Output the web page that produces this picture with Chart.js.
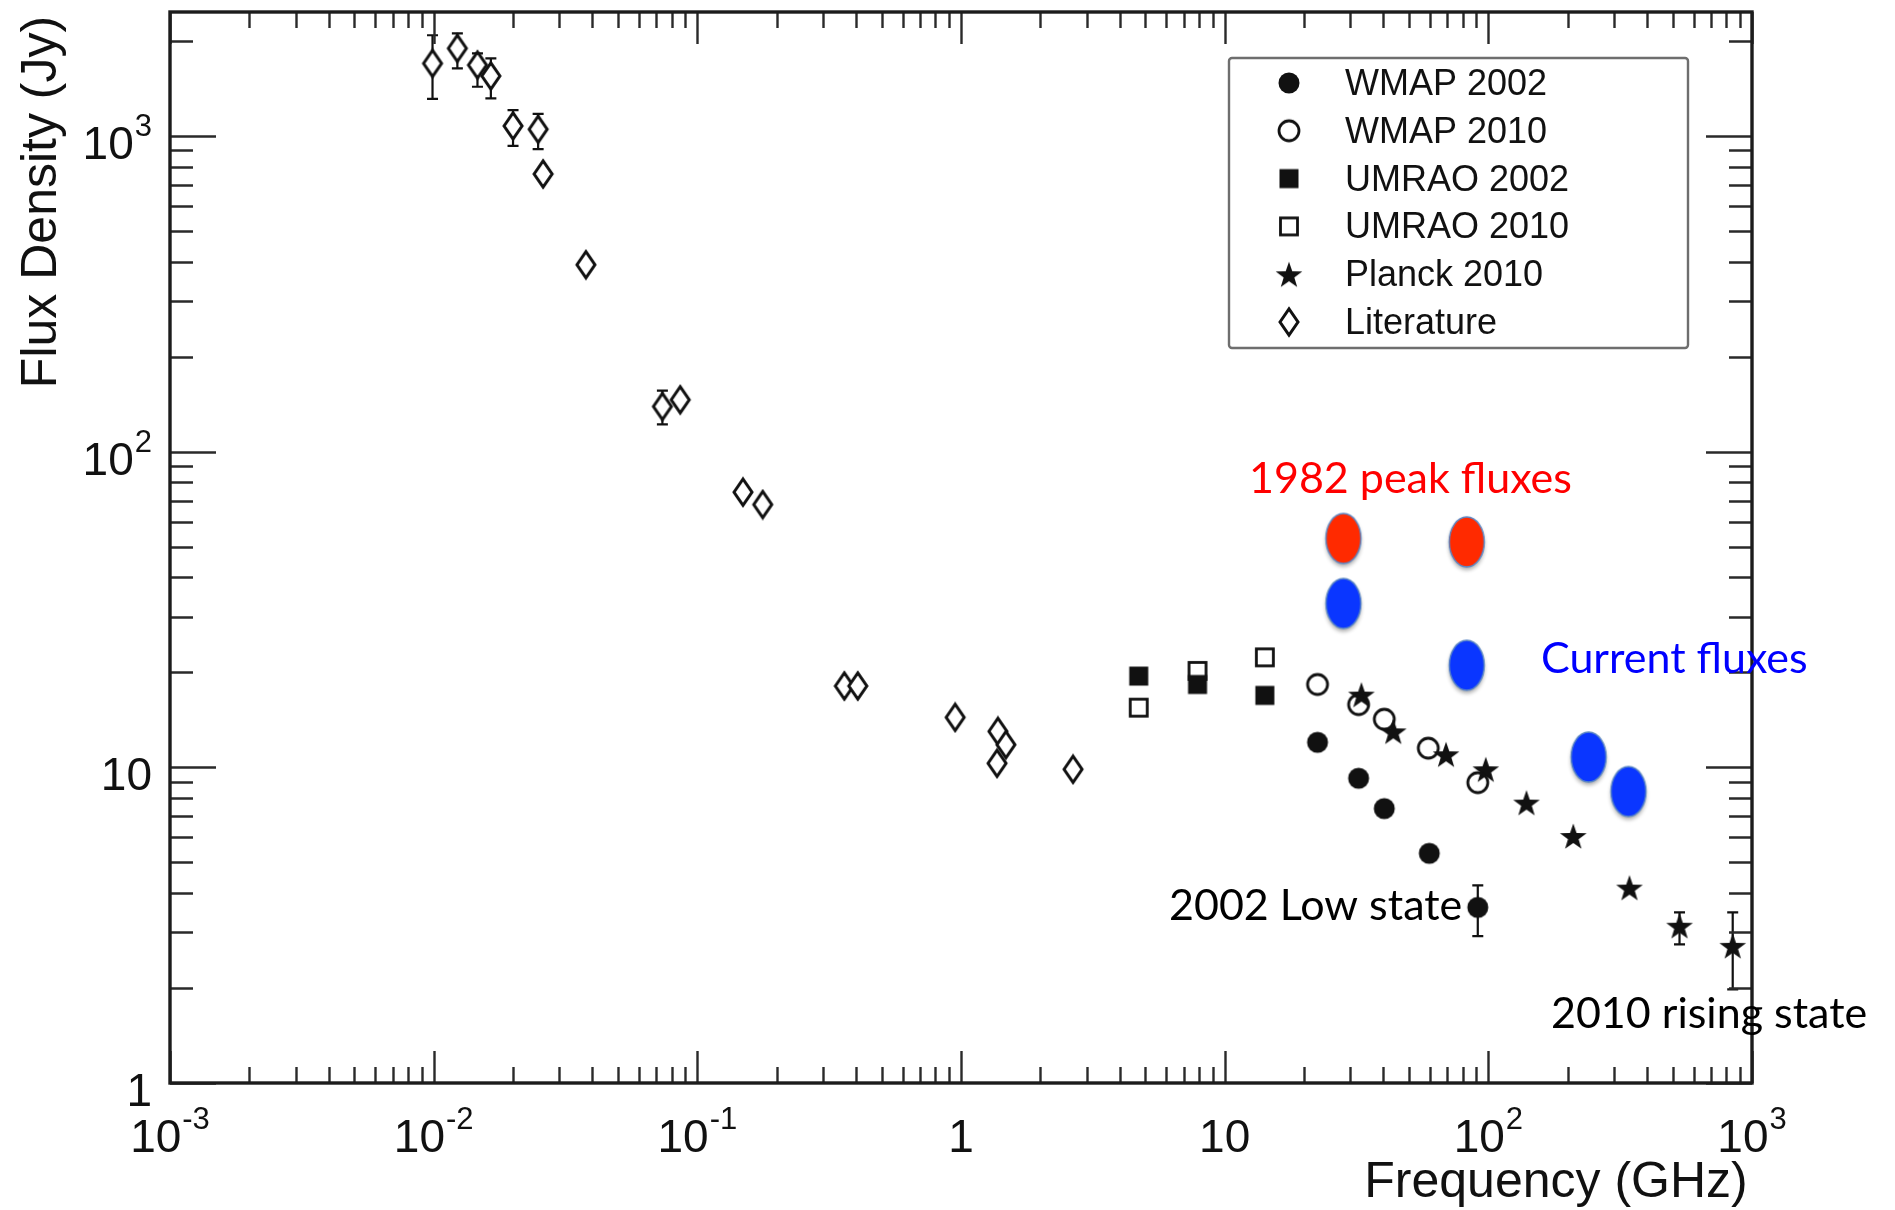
<!DOCTYPE html>
<html lang="en">
<head>
  <meta charset="utf-8">
  <title>Flux Density vs Frequency</title>
  <style>
    html, body { margin: 0; padding: 0; background: #fff; }
    #sed { display: block; }
  </style>
</head>
<body>
  <canvas id="sed" width="1895" height="1210"></canvas>

  <script src="https://cdn.jsdelivr.net/npm/chart.js"></script>
  <script>
    // frequency in GHz, flux density in Jy
    const wmap02Freq = [22.5, 32.2, 40.3, 59.7, 91.2];
    const wmap02Flux = [12.0, 9.23, 7.40, 5.34, 3.60];
    const wmap02Lo = [null, null, null, null, 2.92];
    const wmap02Hi = [null, null, null, null, 4.23];

    const wmap10Freq = [22.5, 32.2, 40.3, 59.2, 91.2];
    const wmap10Flux = [18.3, 15.8, 14.2, 11.5, 8.94];

    const umrao02Freq = [4.72, 7.89, 14.2];
    const umrao02Flux = [19.45, 18.3, 16.9];

    const umrao10Freq = [4.72, 7.89, 14.2];
    const umrao10Flux = [15.45, 20.2, 22.3];

    const planckFreq = [33, 43.6, 69.1, 97.8, 139.5, 210, 343, 531, 845];
    const planckFlux = [17.0, 13.0, 11.0, 9.86, 7.73, 6.06, 4.16, 3.15, 2.72];
    const planckLo = [null, null, null, null, null, null, null, 2.75, 1.98];
    const planckHi = [null, null, null, null, null, null, null, 3.47, 3.47];

    const litFreq = [0.0099, 0.0123, 0.01466, 0.01648, 0.0200, 0.0249, 0.026, 0.0378,
      0.0737, 0.0861, 0.149, 0.177, 0.361, 0.406, 0.95, 1.38, 1.48, 1.37, 2.66];
    const litFlux = [1698, 1895, 1678, 1549, 1076, 1050, 758, 391,
      139, 146, 74.4, 68, 18.1, 18.1, 14.4, 13.0, 11.8, 10.3, 9.86];
    const litLo = [1310, 1638, 1432, 1315, 930, 909, null, null,
      122, null, null, null, null, null, null, null, null, null, null];
    const litHi = [2085, 2113, 1827, 1762, 1208, 1174, null, null,
      156, null, null, null, null, null, null, null, null, null, null];

    const peak82Freq = [28.2, 82.8];
    const peak82Flux = [52.7, 51.4];

    const nowFreq = [28.2, 82.8, 240, 340];
    const nowFlux = [32.8, 20.9, 10.7, 8.32];

    const seriesNames = ['WMAP 2002', 'WMAP 2010', 'UMRAO 2002', 'UMRAO 2010', 'Planck 2010', 'Literature'];
    const noteText = ['1982 peak fluxes', 'Current fluxes', '2002 Low state', '2010 rising state'];
    const xTickExp = [-3, -2, -1, 0, 1, 2, 3];
    const yTickExp = [0, 1, 2, 3];

    const INK = '#111';

    // --- marker sprites ---------------------------------------------------
    function sprite(w, h, paint) {
      const c = document.createElement('canvas');
      c.width = w; c.height = h;
      paint(c.getContext('2d'), w / 2, h / 2);
      return c;
    }

    const dotFilled = sprite(26, 26, (g, cx, cy) => {
      g.fillStyle = INK;
      g.beginPath(); g.arc(cx, cy, 10.5, 0, Math.PI * 2); g.fill();
    });
    const dotOpen = sprite(28, 28, (g, cx, cy) => {
      g.strokeStyle = INK; g.lineWidth = 2.8;
      g.beginPath(); g.arc(cx, cy, 10, 0, Math.PI * 2); g.stroke();
    });
    const boxFilled = sprite(24, 24, (g, cx, cy) => {
      g.fillStyle = INK;
      g.fillRect(cx - 9.5, cy - 9.5, 19, 19);
    });
    const boxOpen = sprite(26, 26, (g, cx, cy) => {
      g.fillStyle = '#fff';
      g.fillRect(cx - 9.5, cy - 9.5, 19, 19);
      g.strokeStyle = INK; g.lineWidth = 2.8;
      g.strokeRect(cx - 8.5, cy - 8.5, 17, 17);
    });
    const star = sprite(32, 32, (g, cx, cy) => {
      g.fillStyle = INK;
      g.beginPath();
      for (let i = 0; i < 10; i++) {
        const r = i % 2 ? 5.6 : 14;
        const a = -Math.PI / 2 + i * Math.PI / 5;
        g.lineTo(cx + r * Math.cos(a), cy + 1.5 + r * Math.sin(a));
      }
      g.closePath(); g.fill();
    });
    const diamond = sprite(26, 32, (g, cx, cy) => {
      g.beginPath();
      g.moveTo(cx - 9, cy); g.lineTo(cx, cy - 13);
      g.lineTo(cx + 9, cy); g.lineTo(cx, cy + 13);
      g.closePath();
      g.fillStyle = '#fff'; g.fill();
      g.strokeStyle = INK; g.lineWidth = 3; g.lineJoin = 'miter'; g.stroke();
    });
    function blob(color) {
      return sprite(48, 64, (g, cx, cy) => {
        g.save();
        g.shadowColor = 'rgba(0,0,0,0.35)';
        g.shadowBlur = 4; g.shadowOffsetY = 3;
        g.fillStyle = color;
        g.beginPath(); g.ellipse(cx, cy - 1, 17.5, 25, 0, 0, Math.PI * 2); g.fill();
        g.restore();
        g.strokeStyle = '#5b87c4'; g.lineWidth = 1.5;
        g.beginPath(); g.ellipse(cx, cy - 1, 17.5, 25, 0, 0, Math.PI * 2); g.stroke();
      });
    }

    const pts = (xs, ys) => xs.map((x, i) => ({ x: x, y: ys[i] }));

    function series(label, xs, ys, marker, lo, hi, inLegend) {
      return {
        label: label,
        data: pts(xs, ys),
        errLo: lo || null,
        errHi: hi || null,
        inLegend: inLegend,
        pointStyle: marker,
        pointRadius: 10,
        pointHoverRadius: 10,
        showLine: false
      };
    }

    // --- error bars, frame, ticks, legend and notes -----------------------
    function powLabel(ctx, exp, x, y, align) {
      const base = exp === 0 ? '1' : '10';
      const sup = exp === 0 || exp === 1 ? '' : String(exp);
      ctx.font = '46px "Liberation Sans", Arial, sans-serif';
      const wb = ctx.measureText(base).width;
      ctx.font = '31px "Liberation Sans", Arial, sans-serif';
      const ws = sup ? ctx.measureText(sup).width + 1 : 0;
      const total = wb + ws;
      let left = x;
      if (align === 'center') left = x - total / 2;
      if (align === 'right') left = x - total;
      ctx.textAlign = 'left';
      ctx.textBaseline = 'alphabetic';
      ctx.font = '46px "Liberation Sans", Arial, sans-serif';
      ctx.fillText(base, left, y);
      if (sup) {
        ctx.font = '31px "Liberation Sans", Arial, sans-serif';
        ctx.fillText(sup, left + wb + 1, y - 23);
      }
    }

    const decorations = {
      id: 'decorations',
      beforeDatasetsDraw(chart) {
        const { ctx, scales: { x, y } } = chart;
        ctx.save();
        ctx.strokeStyle = INK;
        ctx.lineWidth = 2.2;
        chart.data.datasets.forEach((ds) => {
          if (!ds.errLo) return;
          ds.data.forEach((p, i) => {
            if (ds.errLo[i] == null) return;
            const px = x.getPixelForValue(p.x);
            const y0 = y.getPixelForValue(ds.errLo[i]);
            const y1 = y.getPixelForValue(ds.errHi[i]);
            ctx.beginPath();
            ctx.moveTo(px, y0); ctx.lineTo(px, y1);
            ctx.moveTo(px - 5.5, y0); ctx.lineTo(px + 5.5, y0);
            ctx.moveTo(px - 5.5, y1); ctx.lineTo(px + 5.5, y1);
            ctx.stroke();
          });
        });
        ctx.restore();
      },
      afterDraw(chart) {
        const { ctx, chartArea: a, scales: { x, y } } = chart;
        ctx.save();

        // tick marks on all four sides, pointing inward
        ctx.strokeStyle = '#2a2a2a';
        ctx.lineWidth = 2.4;
        ctx.beginPath();
        for (let e = -3; e <= 3; e++) {
          for (let m = 1; m <= 9; m++) {
            const v = m * Math.pow(10, e);
            if (v < x.min * 0.999 || v > x.max * 1.001) continue;
            const px = Math.round(x.getPixelForValue(v)) + 0.5;
            const len = m === 1 ? 32 : 16;
            ctx.moveTo(px, a.bottom); ctx.lineTo(px, a.bottom - len);
            ctx.moveTo(px, a.top); ctx.lineTo(px, a.top + len);
          }
        }
        for (let e = 0; e <= 3; e++) {
          for (let m = 1; m <= 9; m++) {
            const v = m * Math.pow(10, e);
            if (v < y.min * 0.999 || v > y.max) continue;
            const py = Math.round(y.getPixelForValue(v)) + 0.5;
            const len = m === 1 ? 46 : 23;
            ctx.moveTo(a.left, py); ctx.lineTo(a.left + len, py);
            ctx.moveTo(a.right, py); ctx.lineTo(a.right - len, py);
          }
        }
        ctx.stroke();

        // frame
        ctx.strokeStyle = '#1c1c1c';
        ctx.lineWidth = 3.4;
        ctx.strokeRect(a.left, a.top, a.right - a.left, a.bottom - a.top);

        // tick labels
        ctx.fillStyle = INK;
        xTickExp.forEach((e) => powLabel(ctx, e, x.getPixelForValue(Math.pow(10, e)), a.bottom + 69, 'center'));
        yTickExp.forEach((e) => powLabel(ctx, e, a.left - 18, y.getPixelForValue(Math.pow(10, e)) + 23, 'right'));

        // axis titles
        ctx.font = '50px "Liberation Sans", Arial, sans-serif';
        ctx.textAlign = 'center';
        ctx.textBaseline = 'alphabetic';
        ctx.fillText('Frequency (GHz)', a.right - 196, a.bottom + 114);
        ctx.save();
        ctx.translate(56, a.top + 190);
        ctx.rotate(-Math.PI / 2);
        ctx.fillText('Flux Density (Jy)', 0, 0);
        ctx.restore();

        // legend box
        const lx = a.left + 1059, ly = a.top + 46, lw = 459, lh = 290;
        ctx.strokeStyle = '#6e6e6e';
        ctx.lineWidth = 2.4;
        ctx.beginPath();
        ctx.roundRect(lx, ly, lw, lh, 3);
        ctx.stroke();
        ctx.font = '36px "Liberation Sans", Arial, sans-serif';
        ctx.textAlign = 'left';
        ctx.fillStyle = INK;
        chart.data.datasets.filter((d) => d.inLegend).forEach((d, i) => {
          const cy = ly + 25 + i * 47.8;
          const img = d.pointStyle;
          ctx.drawImage(img, lx + 60 - img.width / 2, cy - img.height / 2);
          ctx.fillText(d.label, lx + 116, cy + 12);
        });

        // notes, anchored in data space (GHz, Jy) at their left baseline
        const anchors = [[12.37, 73.9, '#ff0000'], [158.4, 19.9, '#0000ff'], [6.15, 3.28, '#000'], [172.8, 1.49, '#000']];
        ctx.font = '43px Lato, "Open Sans", sans-serif';
        noteText.forEach((t, i) => {
          const [f, s, col] = anchors[i];
          ctx.fillStyle = col;
          ctx.fillText(t, x.getPixelForValue(f), y.getPixelForValue(s));
        });

        ctx.restore();
      }
    };

    const hideAxis = {
      display: true,
      type: 'logarithmic',
      grid: { display: false, drawTicks: false },
      border: { display: false },
      ticks: { display: false },
      afterFit(s) { s.width = 0; s.height = 0; }
    };

    new Chart(document.getElementById('sed'), {
      type: 'scatter',
      data: {
        datasets: [
          series(seriesNames[0], wmap02Freq, wmap02Flux, dotFilled, wmap02Lo, wmap02Hi, true),
          series(seriesNames[1], wmap10Freq, wmap10Flux, dotOpen, null, null, true),
          series(seriesNames[2], umrao02Freq, umrao02Flux, boxFilled, null, null, true),
          series(seriesNames[3], umrao10Freq, umrao10Flux, boxOpen, null, null, true),
          series(seriesNames[4], planckFreq, planckFlux, star, planckLo, planckHi, true),
          series(seriesNames[5], litFreq, litFlux, diamond, litLo, litHi, true),
          series('1982 peak', peak82Freq, peak82Flux, blob('#ff2a00'), null, null, false),
          series('Current', nowFreq, nowFlux, blob('#0a36ff'), null, null, false)
        ]
      },
      options: {
        responsive: false,
        animation: false,
        events: [],
        layout: { padding: { left: 170, right: 143, top: 12, bottom: 127 } },
        scales: {
          x: { ...hideAxis, min: 0.001, max: 1000 },
          y: { ...hideAxis, min: 1, max: 2470 }
        },
        plugins: {
          legend: { display: false },
          tooltip: { enabled: false }
        }
      },
      plugins: [decorations]
    });
  </script>
</body>
</html>
